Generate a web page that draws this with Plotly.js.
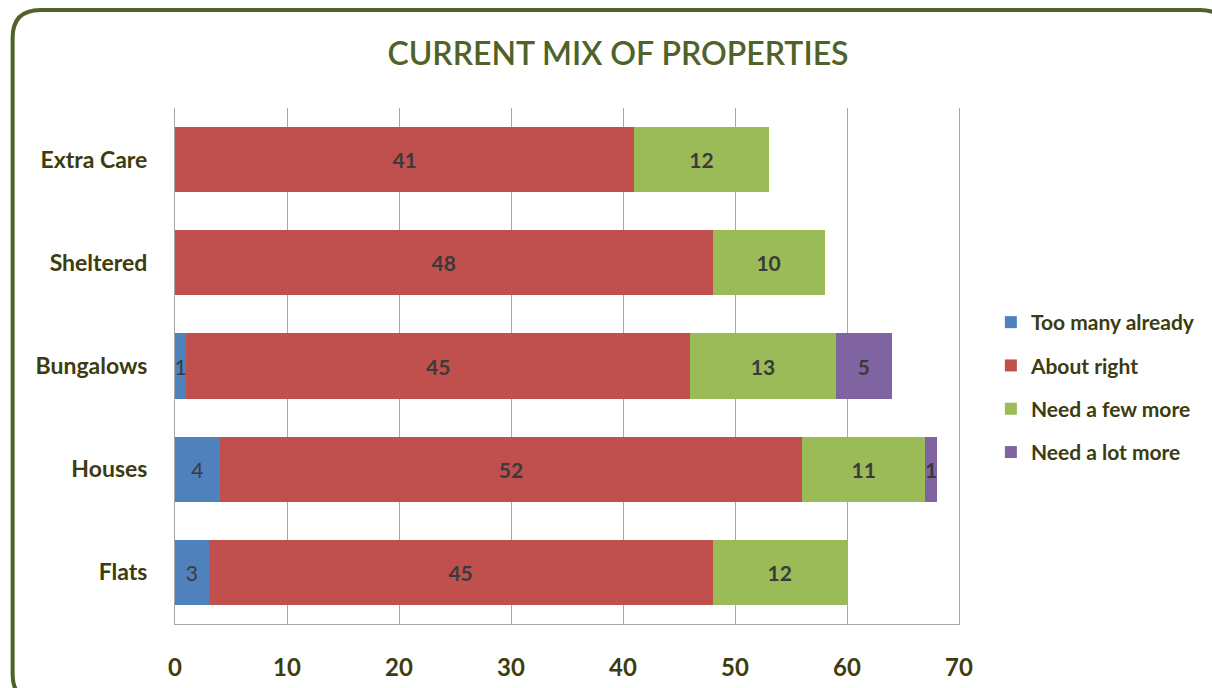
<!DOCTYPE html>
<html>
<head>
<meta charset="utf-8">
<script src="https://cdn.plot.ly/plotly-3.0.1.min.js"></script>
<style>
  html, body { margin: 0; padding: 0; background: #ffffff; }
  #chart { width: 1212px; height: 688px; }
</style>
</head>
<body>
<div id="chart"></div>
<script>
// ---- Data ----
const categories = ["Flats", "Houses", "Bungalows", "Sheltered", "Extra Care"];
const tooManyAlready = [3, 4, 1, null, null];
const aboutRight = [45, 52, 45, 48, 41];
const needFewMore = [12, 11, 13, 10, 12];
const needLotMore = [null, 1, 5, null, null];
const seriesNames = ["Too many already", "About right", "Need a few more", "Need a lot more"];
const xTicks = [0, 10, 20, 30, 40, 50, 60, 70];

// ---- Style ----
const colors = ["#4F81BD", "#C0504D", "#9BBB59", "#8064A2"];
const seriesValues = [tooManyAlready, aboutRight, needFewMore, needLotMore];
const olive = "#3c3c0e";
const FONT = "Lato, 'Open Sans', sans-serif";

const traces = seriesValues.map((vals, i) => ({
  type: "bar",
  orientation: "h",
  name: seriesNames[i],
  legendgroup: "g" + i,
  y: categories,
  x: vals,
  marker: { color: colors[i], line: { width: 0 } },
  text: vals.map(v => (v === null ? "" : String(v))),
  textposition: "inside",
  insidetextanchor: "middle",
  textangle: 0,
  constraintext: "none",
  textfont: { family: FONT, size: 21, color: "#3a3a3a", weight: i === 0 ? 400 : 700 },
  hoverinfo: "name+x"
}));

// plot area in pixels
const L = 175, R = 962, T = 108, B = 624;
const W = 1212, H = 688;
const px2x = p => (p - L) / (R - L);
const px2y = p => (B - p) / (B - T);

// rounded frame (decoration)
const fl = 12, ft = 10, fr = 1232, fb = 702, rad = 28;
const framePath = [
  "M", px2x(fl), px2y(ft + rad),
  "Q", px2x(fl), px2y(ft), px2x(fl + rad), px2y(ft),
  "L", px2x(fr - rad), px2y(ft),
  "Q", px2x(fr), px2y(ft), px2x(fr), px2y(ft + rad),
  "L", px2x(fr), px2y(fb - rad),
  "Q", px2x(fr), px2y(fb), px2x(fr - rad), px2y(fb),
  "L", px2x(fl + rad), px2y(fb),
  "Q", px2x(fl), px2y(fb), px2x(fl), px2y(fb - rad),
  "Z"
].join(" ");

const layout = {
  width: W,
  height: H,
  margin: { l: L, r: W - R, t: T, b: H - B, pad: 0 },
  paper_bgcolor: "#ffffff",
  plot_bgcolor: "#ffffff",
  barmode: "stack",
  bargap: 0.37,
  showlegend: true,
  title: {
    text: "CURRENT MIX OF PROPERTIES",
    font: { family: FONT, size: 32, color: "#4F6228", weight: 600 },
    x: 618 / W,
    xref: "container",
    xanchor: "center",
    y: 1 - 54 / H,
    yref: "container",
    yanchor: "middle"
  },
  xaxis: {
    range: [0, 70],
    tickvals: xTicks,
    ticktext: xTicks.map(String),
    showgrid: true,
    gridcolor: "#A6A6A6",
    gridwidth: 1,
    zeroline: false,
    showline: true,
    linecolor: "#A6A6A6",
    linewidth: 1,
    ticks: "",
    ticklabelstandoff: 22,
    tickfont: { family: FONT, size: 24, color: olive, weight: 700 },
    fixedrange: true
  },
  yaxis: {
    categoryorder: "array",
    categoryarray: categories,
    showgrid: false,
    zeroline: false,
    showline: true,
    mirror: true,
    linecolor: "#A6A6A6",
    linewidth: 1,
    ticks: "",
    ticklabelstandoff: 22,
    tickfont: { family: FONT, size: 23, color: olive, weight: 700 },
    fixedrange: true
  },
  legend: {
    x: px2x(994),
    xanchor: "left",
    y: px2y(302),
    yanchor: "top",
    traceorder: "grouped",
    tracegroupgap: 13,
    font: { family: FONT, size: 21, color: olive, weight: 700 },
    itemwidth: 30,
    bgcolor: "rgba(0,0,0,0)"
  },
  shapes: [
    {
      type: "path",
      xref: "paper",
      yref: "paper",
      path: framePath,
      line: { color: "#4F6228", width: 4 },
      fillcolor: "rgba(0,0,0,0)",
      layer: "above"
    }
  ]
};

Plotly.newPlot("chart", traces, layout, { displayModeBar: false, staticPlot: true });
</script>
</body>
</html>
